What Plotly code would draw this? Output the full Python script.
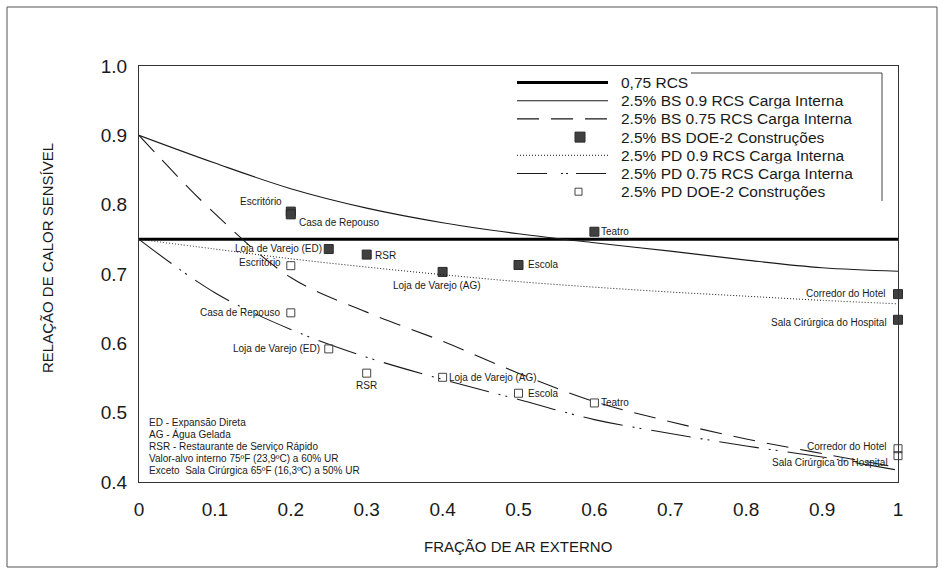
import plotly.graph_objects as go

# ---------------- data ----------------
oa_frac = [0.0, 0.1, 0.2, 0.3, 0.4, 0.5, 0.6, 0.7, 0.8, 0.9, 1.0]
rcs_075 = [0.75] * len(oa_frac)
bs_09 = [0.900, 0.860, 0.823, 0.795, 0.774, 0.758, 0.745, 0.733, 0.720, 0.709, 0.704]
bs_075 = [0.900, 0.787, 0.695, 0.645, 0.603, 0.557, 0.516, 0.487, 0.462, 0.441, 0.421]
pd_09 = [0.750, 0.736, 0.722, 0.710, 0.699, 0.689, 0.681, 0.674, 0.668, 0.662, 0.657]
pd_075 = [0.750, 0.673, 0.620, 0.580, 0.548, 0.519, 0.490, 0.470, 0.452, 0.436, 0.417]

bs_names = ["Escritório", "Casa de Repouso", "Loja de Varejo (ED)", "RSR", "Loja de Varejo (AG)",
            "Escola", "Teatro", "Corredor do Hotel", "Sala Cirúrgica do Hospital"]
bs_x = [0.2, 0.2, 0.25, 0.3, 0.4, 0.5, 0.6, 1.0, 1.0]
bs_y = [0.790, 0.786, 0.736, 0.728, 0.703, 0.713, 0.761, 0.671, 0.634]

pd_names = ["Escritório", "Casa de Repouso", "Loja de Varejo (ED)", "RSR", "Loja de Varejo (AG)",
            "Escola", "Teatro", "Corredor do Hotel", "Sala Cirúrgica do Hospital"]
pd_x = [0.2, 0.2, 0.25, 0.3, 0.4, 0.5, 0.6, 1.0, 1.0]
pd_y = [0.712, 0.644, 0.592, 0.557, 0.551, 0.528, 0.514, 0.448, 0.438]

x_ticks = [0, 0.1, 0.2, 0.3, 0.4, 0.5, 0.6, 0.7, 0.8, 0.9, 1.0]
x_ticktext = ["0", "0.1", "0.2", "0.3", "0.4", "0.5", "0.6", "0.7", "0.8", "0.9", "1"]
y_ticks = [0.4, 0.5, 0.6, 0.7, 0.8, 0.9, 1.0]

legend_names = ["0,75 RCS", "2.5% BS 0.9 RCS Carga Interna", "2.5% BS 0.75 RCS Carga Interna",
                "2.5% BS DOE-2 Construções", "2.5% PD 0.9 RCS Carga Interna",
                "2.5% PD 0.75 RCS Carga Interna", "2.5% PD DOE-2 Construções"]

notes = ["ED - Expansão Direta", "AG - Água Gelada", "RSR - Restaurante de Serviço Rápido",
         "Valor-alvo interno 75ºF (23,9ºC) a 60% UR", "Exceto  Sala Cirúrgica 65ºF (16,3ºC) a 50% UR"]

# label placement (anchor, xshift, yshift) – style, not data
bs_lbl = [("center", -30, 10), ("left", 6, -8), ("right", -5, 1), ("left", 6, -1), ("center", -6, -14),
          ("left", 7, 0), ("left", 5, 0), ("right", -11, 1), ("right", -9, -3)]
pd_lbl = [("right", -8, 3), ("right", -9, 0), ("right", -7, 0), ("center", 0, -12), ("left", 4, 0),
          ("left", 7, 0), ("left", 5, 0), ("right", -10, 2), ("right", -8, -7)]

FONT = "Liberation Sans, Arial, sans-serif"
INK = "#1a1a1a"

# line styles
st_rcs = dict(color="#000000", width=3)
st_bs09 = dict(color=INK, width=1.1)
st_bs075 = dict(color=INK, width=1.1, dash="22px,12px")
st_pd09 = dict(color=INK, width=1, dash="1px,2px")
st_pd075_plot = dict(color=INK, width=1.1, dash="40px,10px,2px,5px,2px,10px")
st_pd075_leg = dict(color=INK, width=1.1, dash="30px,14px,2px,3px,2px,8px")

fig = go.Figure()
fig.add_trace(go.Scatter(x=oa_frac, y=rcs_075, mode="lines", name=legend_names[0], line=st_rcs))
fig.add_trace(go.Scatter(x=oa_frac, y=bs_09, mode="lines", name=legend_names[1],
                         line=dict(st_bs09, shape="spline")))
fig.add_trace(go.Scatter(x=oa_frac, y=bs_075, mode="lines", name=legend_names[2],
                         line=dict(st_bs075, shape="spline")))
fig.add_trace(go.Scatter(x=bs_x, y=bs_y, mode="markers", name=legend_names[3], cliponaxis=False,
                         marker=dict(symbol="square", size=9, color="#404040",
                                     line=dict(color="#2a2a2a", width=1))))
fig.add_trace(go.Scatter(x=oa_frac, y=pd_09, mode="lines", name=legend_names[4],
                         line=dict(st_pd09, shape="spline")))
fig.add_trace(go.Scatter(x=oa_frac, y=pd_075, mode="lines", name=legend_names[5],
                         line=dict(st_pd075_plot, shape="spline")))
fig.add_trace(go.Scatter(x=pd_x, y=pd_y, mode="markers", name=legend_names[6], cliponaxis=False,
                         marker=dict(symbol="square-open", size=8, color="#444444",
                                     line=dict(width=1))))

annotations = []
for name, xv, yv, (anc, dx, dy) in zip(bs_names, bs_x, bs_y, bs_lbl):
    annotations.append(dict(x=xv, y=yv, xref="x", yref="y", text=name, showarrow=False,
                            xanchor=anc, yanchor="middle", xshift=dx, yshift=dy,
                            font=dict(family=FONT, size=10, color=INK)))
for name, xv, yv, (anc, dx, dy) in zip(pd_names, pd_x, pd_y, pd_lbl):
    annotations.append(dict(x=xv, y=yv, xref="x", yref="y", text=name, showarrow=False,
                            xanchor=anc, yanchor="middle", xshift=dx, yshift=dy,
                            font=dict(family=FONT, size=10, color=INK)))

# paper coordinate helpers (plot area 139..898 px wide, 66..482 px tall)
PW, PH = 759.0, 416.0
def px_x(p):
    return (p - 139) / PW
def px_y(p):
    return (482 - p) / PH

for i, t in enumerate(notes):
    annotations.append(dict(x=px_x(147), y=px_y(422 + i * 12), xref="paper", yref="paper", text=t,
                            showarrow=False, xanchor="left", yanchor="middle",
                            font=dict(family=FONT, size=10, color=INK)))

# axis titles
annotations.append(dict(x=px_x(518), y=px_y(546), xref="paper", yref="paper",
                        text="FRAÇÃO DE AR EXTERNO", showarrow=False,
                        xanchor="center", yanchor="middle",
                        font=dict(family=FONT, size=15, color=INK)))
annotations.append(dict(x=px_x(47), y=px_y(258), xref="paper", yref="paper",
                        text="RELAÇÃO DE CALOR SENSÍVEL", showarrow=False, textangle=-90,
                        xanchor="center", yanchor="middle",
                        font=dict(family=FONT, size=15, color=INK)))

shapes = [
    # outer frame
    dict(type="rect", xref="paper", yref="paper", x0=px_x(7), x1=px_x(937), y0=px_y(567), y1=px_y(7),
         line=dict(color="#555555", width=1), layer="below"),
    # legend frame (top and right edges)
    dict(type="line", xref="paper", yref="paper", x0=px_x(691), x1=px_x(882), y0=px_y(73), y1=px_y(73),
         line=dict(color="#444444", width=1)),
    dict(type="line", xref="paper", yref="paper", x0=px_x(882), x1=px_x(882), y0=px_y(73), y1=px_y(201),
         line=dict(color="#444444", width=1)),
]

# ---- legend (drawn by hand to match the compact, wide-sample original) ----
leg_x0, leg_x1, leg_text_x = 517, 608, 619
leg_row0, leg_dy = 82.5, 18.2
leg_line_styles = {0: st_rcs, 1: st_bs09, 2: st_bs075, 4: st_pd09, 5: st_pd075_leg}
for i, name in enumerate(legend_names):
    yc = leg_row0 + i * leg_dy
    if i in leg_line_styles:
        shapes.append(dict(type="line", xref="paper", yref="paper",
                           x0=px_x(leg_x0), x1=px_x(leg_x1), y0=px_y(yc), y1=px_y(yc),
                           line=leg_line_styles[i]))
    elif i == 3:
        shapes.append(dict(type="rect", xref="paper", yref="paper",
                           x0=px_x(575), x1=px_x(585), y0=px_y(yc + 5), y1=px_y(yc - 5),
                           fillcolor="#404040", line=dict(color="#2a2a2a", width=1)))
    else:
        shapes.append(dict(type="rect", xref="paper", yref="paper",
                           x0=px_x(575), x1=px_x(582), y0=px_y(yc + 3.5), y1=px_y(yc - 3.5),
                           fillcolor="white", line=dict(color="#444444", width=1)))
    annotations.append(dict(x=px_x(leg_text_x), y=px_y(yc), xref="paper", yref="paper", text=name,
                            showarrow=False, xanchor="left", yanchor="middle", bgcolor="white",
                            font=dict(family=FONT, size=15.5, color=INK)))

fig.update_layout(
    width=945, height=575,
    margin=dict(l=139, r=47, t=66, b=93),
    paper_bgcolor="white", plot_bgcolor="white",
    font=dict(family=FONT, color=INK),
    showlegend=False,
    xaxis=dict(range=[0, 1], tickvals=x_ticks, ticktext=x_ticktext, showgrid=False, zeroline=False,
               showline=True, linecolor="#333333", linewidth=1, mirror=True, ticks="",
               ticklabelstandoff=10,
               tickfont=dict(family=FONT, size=19, color=INK)),
    yaxis=dict(range=[0.4, 1.0], tickvals=y_ticks, tickformat=".1f", showgrid=False, zeroline=False,
               showline=True, linecolor="#333333", linewidth=1, mirror=True, ticks="",
               ticklabelstandoff=7,
               tickfont=dict(family=FONT, size=19, color=INK)),
    annotations=annotations,
    shapes=shapes,
)

fig.write_html("out.html")
